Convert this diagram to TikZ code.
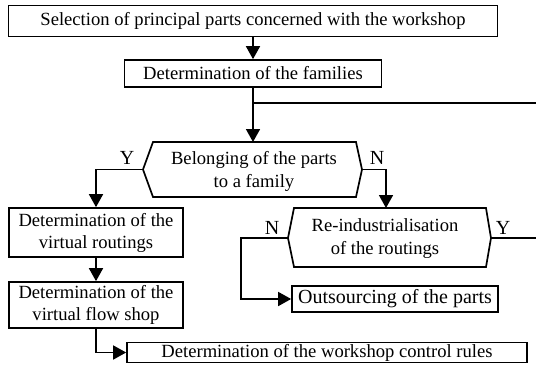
\documentclass[tikz,border=0pt]{standalone}
\usepackage{fontspec}
\setmainfont{Liberation Serif}
\usetikzlibrary{arrows.meta}
\begin{document}
\begin{tikzpicture}[x=1pt,y=-1pt,
  box/.style={draw,line width=1.7pt,inner sep=0pt,align=center,font=\fontsize{18.6}{22}\selectfont},
  txt/.style={inner sep=0pt,align=center,font=\fontsize{18.6}{23}\selectfont},
  lbl/.style={inner sep=0pt,font=\fontsize{20}{22}\selectfont},
  hexa/.style={draw,line width=1.7pt,line join=miter},
  conn/.style={line width=1.7pt},
  arr/.style={conn,-{Triangle[width=14pt,length=13pt]}}]
\useasboundingbox (0,0) rectangle (536,367);

% boxes
\node[box,minimum width=489pt,minimum height=31pt] (b1) at (253,21) {Selection of principal parts concerned with the workshop};
\node[box,minimum width=257pt,minimum height=27pt] (b2) at (253,73.5) {Determination of the families};
\node[box,minimum width=174pt,minimum height=49pt] (b3) at (96,232.5) {Determination of the\\virtual routings};
\node[box,minimum width=174pt,minimum height=46pt] (b4) at (96,305) {Determination of the\\virtual flow shop};
\node[box,minimum width=206pt,minimum height=26pt,font=\fontsize{20}{22}\selectfont] (b6) at (395,299) {Outsourcing of the parts};
\node[box,minimum width=400pt,minimum height=20pt] (b5) at (327,352.5) {Determination of the workshop control rules};

% decision 1
\draw[hexa] (143,169.5) -- (153,142) -- (356,142) -- (362,169.5) -- (356,197) -- (153,197) -- cycle;
\node[txt] (h1) at (254,171) {Belonging of the parts\\to a family};
\coordinate (h1t) at (253,142);
\coordinate (h1l) at (143,169.5);
\coordinate (h1r) at (362,169.5);

% decision 2
\draw[hexa] (288,238) -- (294,208) -- (486,208) -- (491,238) -- (486,267) -- (294,267) -- cycle;
\node[txt] (h2) at (385,239) {Re-industrialisation\\of the routings};
\coordinate (h2t) at (386,208);
\coordinate (h2l) at (288,238);
\coordinate (h2r) at (491,238);

% free ends
\coordinate (br) at (253,103);
\coordinate (e1) at (536,103);
\coordinate (e2) at (536,238);
\coordinate (k1) at (241,238);

% labels
\node[lbl] (y1) at (127,158) {Y};
\node[lbl] (n1) at (377,158) {N};
\node[lbl] (n2) at (272,228) {N};
\node[lbl] (y2) at (503,228) {Y};

% connectors
\draw[arr] (b1.south) -- (b2.north);
\draw[arr] (b2.south) -- (h1t);
\draw[conn] (br) -- (e1);
\draw[arr] (h1l) -| (b3.north);
\draw[arr] (h1r) -| (h2t);
\draw[arr] (b3.south) -- (b4.north);
\draw[arr] (b4.south) |- (b5.west);
\draw[arr] (h2l) -- (k1) |- (b6.west);
\draw[conn] (h2r) -- (e2);
\end{tikzpicture}
\end{document}
